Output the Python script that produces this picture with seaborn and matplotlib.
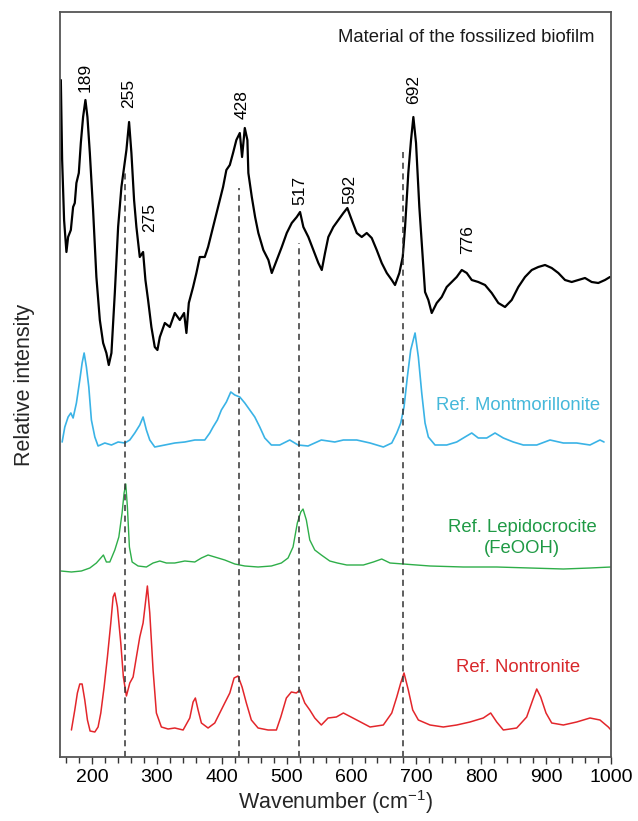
import numpy as np
import pandas as pd
import matplotlib
matplotlib.use("Agg")
import matplotlib.pyplot as plt
import seaborn as sns

# ---------------- data ----------------
black_w = [151.8, 153.8, 156.8, 160.4, 163.0, 167.2, 170.7, 173.3, 175.8, 179.5, 182.6, 186.1, 189.7, 192.8,
           196.5, 201.5, 206.6, 211.9, 217.0, 222.0, 225.7, 229.8, 235.0, 240.1, 245.2, 249.3, 252.9, 257.0,
           260.6, 264.7, 268.3, 273.5, 278.6, 282.2, 286.3, 291.4, 296.6, 300.7, 304.4, 312.1, 319.8, 327.5,
           335.2, 341.8, 345.4, 349.1, 355.7, 360.8, 366.0, 373.7, 378.8, 386.5, 394.2, 401.9, 407.0, 412.3,
           417.3, 422.4, 427.7, 431.2, 435.4, 439.4, 440.9, 446.2, 451.3, 456.3, 464.0, 471.8, 477.0, 484.7,
           492.4, 500.1, 507.8, 515.5, 520.6, 525.7, 533.4, 541.1, 548.8, 554.1, 559.1, 564.2, 571.9, 579.6,
           587.4, 593.5, 600.3, 608.0, 615.7, 623.4, 631.1, 638.8, 646.5, 654.3, 662.0, 667.0, 673.7, 678.9,
           682.5, 687.5, 691.7, 695.3, 699.4, 704.5, 709.7, 713.3, 718.4, 723.6, 731.3, 739.0, 746.7, 754.4,
           762.1, 769.9, 777.6, 785.3, 795.4, 805.8, 816.1, 826.3, 836.6, 846.9, 857.1, 867.4, 877.8, 887.9,
           898.3, 908.6, 918.8, 929.1, 939.4, 949.6, 959.9, 970.2, 980.4, 990.7, 998.4]
black_i = [297, 217, 157, 125, 140, 147, 170, 174, 194, 204, 234, 260, 277, 260,
           224, 167, 100, 57, 34, 24, 12, 24, 84, 150, 190, 210, 227, 255,
           224, 177, 150, 120, 125, 97, 77, 50, 30, 27, 40, 54, 50, 64,
           57, 64, 44, 74, 90, 104, 120, 120, 130, 150, 170, 190, 207, 212,
           224, 237, 244, 220, 249, 237, 204, 180, 160, 144, 127, 117, 104, 117,
           130, 144, 154, 160, 165, 150, 140, 127, 114, 107, 124, 140, 150, 157,
           164, 169, 157, 144, 140, 144, 139, 127, 114, 104, 97, 92, 104, 120,
           150, 204, 237, 260, 234, 170, 120, 85, 77, 64, 74, 80, 90, 95,
           100, 107, 104, 97, 95, 92, 84, 74, 70, 77, 90, 100, 107, 110,
           112, 109, 104, 97, 95, 97, 99, 95, 94, 97, 100]

mont_w = [153.8, 157.9, 163.0, 167.2, 170.7, 175.8, 181.0, 184.6, 187.7, 191.2, 194.9, 198.9, 204.2, 209.2,
          219.6, 229.8, 240.1, 250.4, 258.1, 265.8, 273.5, 278.6, 283.7, 288.9, 296.6, 312.1, 327.5, 342.9,
          358.3, 373.7, 381.4, 386.5, 393.1, 399.3, 407.0, 413.8, 420.0, 427.7, 435.4, 443.1, 450.8, 458.5,
          466.2, 476.4, 489.3, 504.7, 517.5, 532.9, 553.4, 574.1, 587.4, 608.0, 628.5, 649.0, 662.0, 669.7,
          675.8, 680.9, 686.0, 691.2, 697.9, 703.0, 708.2, 713.3, 718.4, 728.7, 746.7, 762.1, 774.9, 785.3,
          795.4, 808.4, 821.2, 834.0, 849.4, 864.8, 885.5, 906.0, 926.5, 947.1, 967.6, 983.0, 989.2]
mont_i = [15, 30, 40, 44, 39, 54, 77, 94, 104, 90, 70, 37, 20, 11,
          14, 12, 15, 14, 17, 24, 32, 40, 27, 17, 10, 12, 14, 15,
          17, 17, 24, 30, 37, 47, 55, 65, 62, 60, 54, 47, 40, 30,
          19, 12, 12, 17, 12, 11, 17, 15, 17, 17, 14, 10, 14, 24,
          34, 50, 80, 107, 124, 100, 64, 34, 20, 12, 12, 15, 20, 24,
          19, 19, 24, 19, 15, 12, 12, 17, 14, 14, 12, 17, 15]

lepi_w = [151.8, 168.1, 183.5, 196.5, 206.6, 213.4, 217.4, 222.0, 227.3, 235.0, 241.2, 246.2, 249.3, 251.9,
          254.4, 257.5, 261.7, 270.9, 283.7, 294.0, 304.4, 314.5, 327.5, 342.9, 358.3, 368.5, 378.8, 389.1,
          404.5, 420.0, 435.4, 455.9, 476.4, 491.8, 502.1, 509.8, 516.4, 521.7, 525.2, 530.3, 535.6, 543.3,
          553.4, 566.4, 578.1, 592.6, 618.2, 633.6, 646.5, 659.3, 679.8, 721.0, 772.3, 823.8, 875.1, 926.5,
          967.6, 1000.0]
lepi_i = [6, 5, 6, 9, 14, 19, 22, 15, 15, 27, 40, 64, 84, 93,
          70, 30, 15, 11, 10, 14, 16, 14, 14, 16, 15, 19, 22, 20,
          17, 13, 11, 10, 11, 14, 19, 30, 54, 65, 68, 57, 37, 27,
          22, 16, 14, 12, 12, 15, 18, 14, 13, 11, 10, 10, 9, 8,
          9, 10]

nont_w = [168.1, 173.3, 177.3, 181.0, 184.6, 188.7, 192.8, 196.9, 204.2, 209.2, 213.4, 218.5, 223.6, 228.8,
          232.4, 235.0, 239.0, 244.2, 248.2, 252.9, 258.1, 263.2, 268.3, 273.5, 278.6, 282.2, 285.2, 288.9,
          294.0, 299.1, 306.8, 317.1, 327.5, 340.3, 350.6, 355.7, 359.2, 363.4, 368.5, 378.8, 389.1, 396.8,
          404.5, 412.3, 418.9, 425.0, 431.2, 437.8, 445.5, 455.9, 471.3, 484.1, 490.9, 499.5, 507.2, 514.9,
          520.2, 527.9, 535.6, 543.3, 553.4, 563.8, 576.6, 587.4, 608.0, 628.5, 649.0, 662.0, 669.7, 675.8,
          680.9, 687.5, 694.3, 703.0, 721.0, 741.5, 762.1, 782.6, 803.1, 814.5, 823.8, 834.0, 854.6, 870.0,
          879.3, 885.5, 891.6, 899.8, 908.6, 926.5, 947.1, 967.6, 983.0, 995.8, 1000.0]
nont_i = [7, 27, 44, 53, 53, 37, 17, 6, 5, 10, 24, 50, 80, 114,
          140, 144, 130, 94, 60, 41, 54, 60, 80, 100, 114, 134, 151, 124,
          67, 24, 10, 8, 9, 7, 19, 35, 39, 27, 14, 9, 14, 24,
          34, 44, 59, 61, 50, 34, 17, 9, 7, 7, 20, 39, 45, 44,
          47, 34, 27, 19, 12, 19, 20, 24, 17, 10, 12, 24, 40, 54,
          64, 47, 27, 17, 12, 10, 12, 15, 19, 24, 15, 7, 9, 20,
          37, 48, 40, 24, 14, 12, 15, 19, 17, 10, 7]

names = ["Material of the fossilized biofilm", "Ref. Montmorillonite",
         "Ref. Lepidocrocite\n(FeOOH)", "Ref. Nontronite"]
peak_labels = ["189", "255", "275", "428", "517", "592", "692", "776"]
peak_pos = [189.2, 257.0, 289.4, 431.2, 520.6, 597.7, 696.3, 779.6]
peak_h = [680, 664, 539, 652, 567, 568, 667, 517]
dash_pos = [251, 426, 519, 680]
dash_top = [587, 569, 514, 605]
xticks = [200, 300, 400, 500, 600, 700, 800, 900, 1000]

# ---------------- styling ----------------
sns.set_theme(style="white")
plt.rcParams['font.family'] = ['Liberation Sans', 'DejaVu Sans']
plt.rcParams['mathtext.default'] = 'regular'

offsets = [380, 300, 180, 20]
colors = ["black", "#3AB3E6", "#2EAE49", "#E3262B"]
text_colors = ["#1a1a1a", "#45B8DA", "#1F9A45", "#D8282B"]
series = [(black_w, black_i), (mont_w, mont_i), (lepi_w, lepi_i), (nont_w, nont_i)]
lws = [1.6, 1.2, 1.0, 1.1]

fig = plt.figure(figsize=(6.38, 8.21), dpi=100)
ax = fig.add_axes([60/638, 1-757/821, (611-60)/638, (757-12)/821])

for (w, inten), off, c, lw in zip(series, offsets, colors, lws):
    df = pd.DataFrame({"w": w, "y": np.array(inten) + off})
    sns.lineplot(data=df, x="w", y="y", color=c, lw=lw, ax=ax, estimator=None, sort=False)

for xp, top in zip(dash_pos, dash_top):
    ax.plot([xp, xp], [0, top], ls=(0, (4, 3)), color="#333333", lw=1.1)

for lab, xp, yp in zip(peak_labels, peak_pos, peak_h):
    ax.text(xp, yp, lab, rotation=90, ha="center", va="center", fontsize=12.5, color="black")

ax.text(776.5, 719, names[0], ha="center", va="center", fontsize=13.3, color=text_colors[0])
ax.text(856.6, 352, names[1], ha="center", va="center", fontsize=13.3, color=text_colors[1])
ax.text(862.8, 219, names[2], ha="center", va="center", fontsize=13.3, color=text_colors[2],
        multialignment="center", linespacing=1.25)
ax.text(856.6, 89, names[3], ha="center", va="center", fontsize=13.3, color=text_colors[3])

ax.set_xlim(150.5, 1000)
ax.set_ylim(0, 745)
ax.set_xticks(xticks)
ax.set_xticks(np.arange(160, 1000, 20), minor=True)
ax.set_yticks([])
ax.tick_params(axis="x", which="major", direction="out", length=5, width=1, colors="#333333",
               labelsize=14, labelcolor="black", pad=4)
ax.tick_params(axis="x", which="minor", direction="out", length=4, width=1, colors="#333333")
ax.xaxis.set_ticks_position("bottom")
for s in ax.spines.values():
    s.set_visible(True)
    s.set_color("#555555")
    s.set_linewidth(1.3)

ax.set_xlabel("Wavenumber (cm$^{-1}$)", fontsize=15.5, labelpad=1)
ax.set_ylabel("Relative intensity", fontsize=15.5, labelpad=18)

fig.savefig("out.png", dpi=100)
